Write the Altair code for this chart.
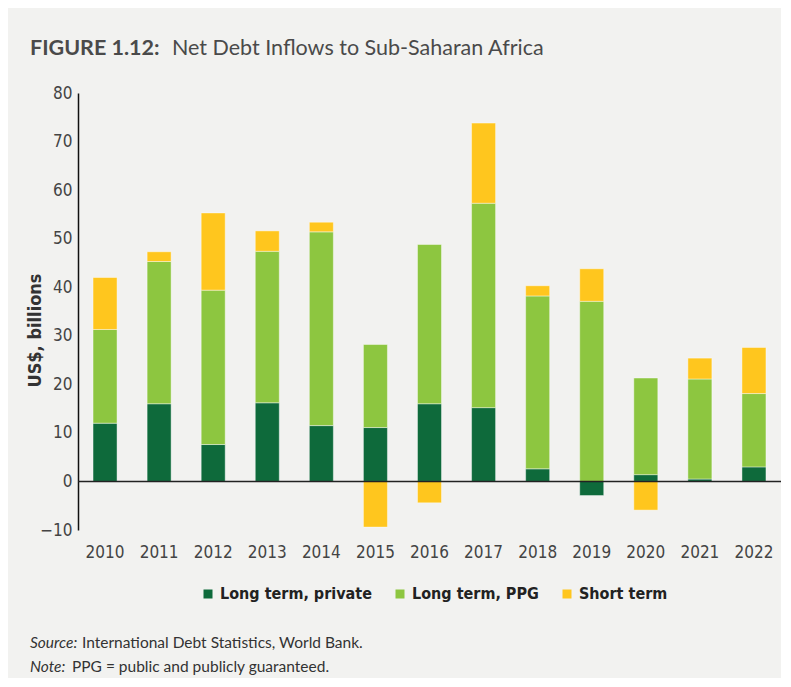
import altair as alt
import pandas as pd

years = [str(y) for y in range(2010, 2023)]
lt_private = [12.0, 16.0, 7.6, 16.2, 11.5, 11.1, 16.0, 15.2, 2.6, -2.9, 1.4, 0.5, 3.0]
lt_ppg = [19.3, 29.3, 31.8, 31.2, 39.9, 17.1, 32.8, 42.1, 35.6, 37.1, 19.9, 20.6, 15.1]
short_term = [10.7, 2.0, 15.9, 4.2, 2.0, -9.4, -4.4, 16.5, 2.1, 6.7, -5.9, 4.3, 9.5]
series = ["Long term, private", "Long term, PPG", "Short term"]
colors = ["#0e6a3b", "#8dc640", "#ffc61e"]
y_ticks = list(range(-10, 81, 10))

rows = []
for i, s in enumerate(series):
    vals = [lt_private, lt_ppg, short_term][i]
    for y, v in zip(years, vals):
        rows.append({"year": y, "series": s, "value": v, "idx": i})
df = pd.DataFrame(rows)

NARROW = "'DejaVu Sans Condensed', 'Liberation Sans Narrow', Roboto, sans-serif"
SANS = "Lato"

bars = alt.Chart(df).mark_bar(stroke="white", strokeWidth=0.6, strokeOpacity=0.7).encode(
    x=alt.X("year:N", sort=years,
            scale=alt.Scale(paddingInner=0.556, paddingOuter=0.278),
            axis=alt.Axis(title=None, labelAngle=0, ticks=False, domain=False,
                          labelFont=NARROW, labelFontSize=17, labelColor="#444444",
                          labelPadding=14)),
    y=alt.Y("value:Q", stack="zero",
            scale=alt.Scale(domain=[-10, 80], nice=False),
            axis=alt.Axis(values=y_ticks, ticks=False, grid=False, domain=True,
                          domainColor="#111111", domainWidth=1.5,
                          labelFont=NARROW, labelFontSize=17, labelColor="#444444",
                          labelPadding=6, title="US$, billions",
                          titleFont=NARROW, titleFontSize=18, titleFontWeight="bold",
                          titleColor="#333333", titleX=-43, titleY=237,
                          titleAlign="center", titleBaseline="middle")),
    color=alt.Color("series:N", sort=series,
                    scale=alt.Scale(domain=series, range=colors),
                    legend=alt.Legend(title=None, orient="none", legendX=122, legendY=493,
                                      direction="horizontal", symbolType="square",
                                      symbolSize=81, symbolStrokeWidth=0,
                                      labelFont=NARROW, labelFontSize=16, labelLimit=0,
                                      labelFontWeight="bold", labelColor="#222222",
                                      columnPadding=20, labelOffset=4)),
    order=alt.Order("idx:Q"),
)

zero = alt.Chart(pd.DataFrame({"y": [0]})).mark_rule(color="#222222", strokeWidth=1.5).encode(
    y="y:Q"
)


def txt(s, x, y, size, weight="normal", style="normal", color="#4a4a4a", font=SANS):
    return alt.Chart(pd.DataFrame({"t": [s]})).mark_text(
        align="left", baseline="alphabetic", font=font, fontSize=size,
        fontWeight=weight, fontStyle=style, color=color
    ).encode(x=alt.value(x), y=alt.value(y), text="t:N")


title_bold = txt("FIGURE 1.12:", -48, -38, 21.5, weight="bold")
title_rest = txt("Net Debt Inflows to Sub-Saharan Africa", 94, -38, 21.5)
src1 = txt("Source:", -48, 555, 15.5, style="italic", color="#333333")
src2 = txt("International Debt Statistics, World Bank.", 4, 555, 15.5, color="#333333")
note1 = txt("Note:", -48, 579, 15.5, style="italic", color="#333333")
note2 = txt("PPG = public and publicly guaranteed.", -6, 579, 15.5, color="#333333")

chart = alt.layer(bars, zero, title_bold, title_rest, src1, src2, note1, note2).properties(
    width=703, height=437,
    autosize=alt.AutoSizeParams(type="none"),
    padding={"left": 70, "top": 85, "right": 0, "bottom": 148},
    background="#f2f2f0",
).configure_view(stroke=None)

chart.save("out.html", embed_options={"renderer": "svg", "actions": False})
